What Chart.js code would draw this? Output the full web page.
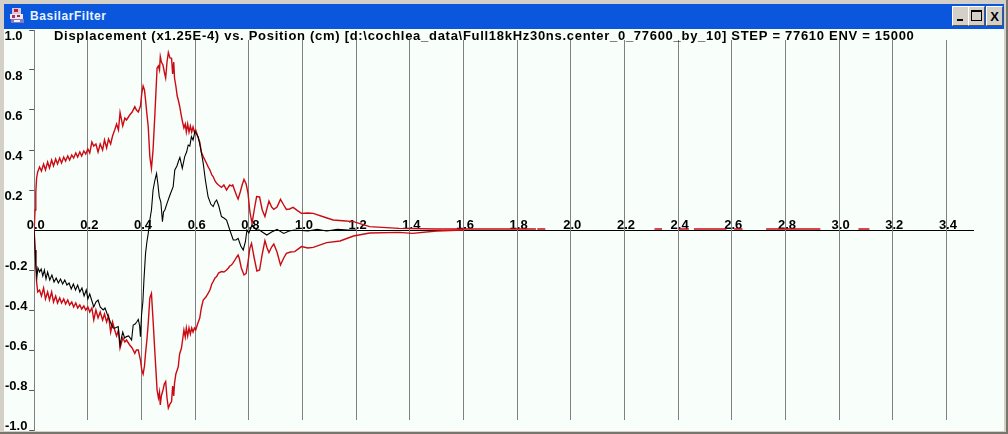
<!DOCTYPE html>
<html>
<head>
<meta charset="utf-8">
<title>BasilarFilter</title>
<script src="https://cdn.jsdelivr.net/npm/chart.js@4"></script>
<style>
  html, body { margin: 0; padding: 0; background: #d4d0c8; overflow: hidden; }
  #win { position: absolute; left: 0; top: 0; width: 1008px; height: 434px; background: #d4d0c8; }
  #edgeB { position: absolute; left: 0; top: 432px; width: 1008px; height: 2px; background: #77756c; }
  #edgeR { position: absolute; left: 1006px; top: 0; width: 2px; height: 434px; background: #77756c; }
  #bar { position: absolute; left: 4px; top: 4px; width: 1000px; height: 25px; background: #0a56dc; }
  #name { position: absolute; left: 30px; top: 9px; font: bold 12px "Liberation Sans", sans-serif; letter-spacing: .55px; color: #e8f4ff; }
  #icon { position: absolute; left: 9px; top: 8px; }
  .btn { position: absolute; top: 6px; width: 15px; height: 18px; background: #d4d0c8; border: 1px solid; border-color: #fff #555 #555 #fff; }
  #chart { position: absolute; left: 4px; top: 29px; background: #f8fefa; }
</style>
</head>
<body>
<div id="win">
  <div id="edgeB"></div><div id="edgeR"></div>
  <div id="bar"></div>
  <svg id="icon" width="16" height="16" viewBox="0 0 16 16">
    <rect x="3" y="0" width="9" height="6" fill="#d8c8e0"/>
    <rect x="5" y="1" width="4" height="3" fill="#c02030"/>
    <rect x="1" y="6" width="13" height="5" fill="#f0e8f0"/>
    <rect x="3" y="7" width="3" height="3" fill="#b03060"/>
    <rect x="8" y="7" width="3" height="2" fill="#c02030"/>
    <rect x="2" y="11" width="13" height="4" fill="#8878c0"/>
    <rect x="5" y="12" width="6" height="2" fill="#f4f0f8"/>
  </svg>
  <div id="name">BasilarFilter</div>
  <div class="btn" style="left:952px"><div style="position:absolute;left:4px;top:12px;width:6px;height:2px;background:#000"></div></div>
  <div class="btn" style="left:968px"><div style="position:absolute;left:2px;top:3px;width:11px;height:11px;border:1px solid #000;border-top-width:2px;box-sizing:border-box"></div></div>
  <div class="btn" style="left:986px"><div style="position:absolute;left:0;top:2px;width:15px;text-align:center;font:bold 13px 'Liberation Sans',sans-serif;color:#000">X</div></div>
  <canvas id="chart" width="1000" height="402"></canvas>
</div>
<script>
const titleText = "Displacement (x1.25E-4) vs. Position (cm) [d:\\cochlea_data\\Full18kHz30ns.center_0_77600_by_10] STEP = 77610 ENV = 15000";

const xTicks = [0,0.2,0.4,0.6,0.8,1.0,1.2,1.4,1.6,1.8,2.0,2.2,2.4,2.6,2.8,3.0,3.2,3.4];
const yTicks = [-1.0,-0.8,-0.6,-0.4,-0.2,0,0.2,0.4,0.6,0.8,1.0];

const upperX = [
  0,.003,.006,.009,.013,.02,.027,.035,.042,.05,
  .057,.065,.072,.08,.087,.095,.102,.11,.117,.125,
  .132,.14,.147,.155,.162,.17,.177,.185,.192,.2,
  .207,.215,.222,.23,.238,.246,.255,.262,.27,.277,
  .285,.292,.3,.307,.314,.32,.33,.338,.344,.356,
  .365,.375,.381,.388,.396,.401,.406,.411,.415,.42,
  .425,.431,.437,.443,.45,.458,.463,.467,.47,.474,
  .48,.485,.49,.495,.5,.506,.512,.516,.52,.523,
  .528,.533,.537,.542,.549,.553,.558,.563,.567,.572,
  .577,.582,.587,.592,.597,.602,.609,.617,.623,.63,
  .64,.648,.655,.662,.667,.674,.68,.687,.698,.707,
  .717,.724,.729,.735,.74,.748,.755,.76,.768,.775,
  .782,.79,.797,.804,.812,.82,.829,.84,.85,.86,
  .868,.875,.885,.893,.905,.918,.93,.94,.952,.965,
  .98,.996,1.02,1.04,1.08,1.114,1.15,1.19,1.25,1.36,
  1.5,1.66,1.87,1.872,1.875,1.905,1.907,2.31,2.312,2.34,
  2.342,2.4,2.402,2.44,2.442,2.457,2.459,2.58,2.582,2.607,
  2.609,2.64,2.642,2.726,2.728,2.93,2.932,3.07,3.072,3.113
];
// null = the trace lies on the axis line there and does not show
const upperY = [
  0,.10,.19,.26,.29,.315,.295,.33,.30,.34,
  .31,.35,.32,.355,.33,.36,.335,.365,.345,.37,
  .35,.375,.36,.385,.365,.39,.37,.395,.38,.405,
  .385,.44,.42,.43,.39,.43,.40,.45,.41,.455,
  .43,.47,.50,.53,.50,.587,.52,.56,.55,.575,
  .59,.617,.60,.59,.62,.683,.72,.70,.65,.58,
  .517,.367,.308,.40,.583,.81,.82,.80,.867,.84,
  .825,.79,.76,.84,.887,.86,.858,.78,.84,.76,
  .72,.67,.65,.62,.567,.54,.51,.53,.49,.53,
  .49,.52,.49,.515,.49,.50,.47,.44,.39,.367,
  .34,.317,.30,.275,.267,.245,.233,.225,.213,.225,
  .20,.215,.225,.22,.225,.195,.17,.155,.19,.225,
  .253,.23,.183,.09,.033,.10,.167,.165,.10,.067,
  .11,.145,.115,.103,.115,.153,.125,.103,.105,.113,
  .098,.083,.085,.083,.065,.05,.046,.042,.017,.008,
  .005,.005,.005,null,.005,.005,null,null,.005,.005,
  null,null,.005,.005,null,null,.005,.005,null,null,
  .005,.005,null,null,.005,.005,null,null,.005,.005
];

const lowerX = [
  0,.003,.006,.009,.013,.02,.027,.035,.042,.05,
  .057,.065,.072,.08,.087,.095,.102,.11,.117,.125,
  .132,.14,.147,.155,.162,.17,.177,.185,.192,.2,
  .207,.215,.222,.23,.238,.246,.255,.262,.27,.277,
  .285,.292,.3,.307,.314,.32,.33,.338,.344,.356,
  .365,.375,.381,.388,.396,.401,.406,.411,.415,.42,
  .425,.431,.437,.443,.45,.458,.463,.467,.47,.474,
  .48,.485,.49,.495,.5,.506,.512,.516,.52,.523,
  .528,.533,.537,.542,.549,.553,.558,.563,.567,.572,
  .577,.582,.587,.592,.597,.602,.609,.617,.623,.63,
  .64,.648,.655,.662,.667,.674,.68,.687,.698,.707,
  .717,.724,.729,.735,.74,.748,.755,.76,.764,.772,
  .782,.79,.797,.804,.81,.82,.83,.84,.85,.86,
  .868,.875,.885,.893,.905,.918,.93,.94,.955,.971,
  .996,1.02,1.04,1.09,1.14,1.19,1.25,1.36,1.41,1.5,
  1.6
];
const lowerY = [
  0,-.10,-.18,-.26,-.31,-.30,-.33,-.29,-.345,-.31,
  -.35,-.31,-.36,-.33,-.365,-.34,-.365,-.345,-.37,-.35,
  -.375,-.36,-.385,-.365,-.39,-.375,-.395,-.38,-.40,-.385,
  -.41,-.39,-.45,-.40,-.44,-.41,-.45,-.42,-.46,-.43,
  -.51,-.46,-.50,-.53,-.50,-.59,-.54,-.56,-.55,-.575,
  -.59,-.617,-.60,-.60,-.65,-.70,-.72,-.68,-.617,-.55,
  -.467,-.34,-.317,-.45,-.617,-.80,-.84,-.81,-.875,-.83,
  -.80,-.77,-.758,-.84,-.89,-.87,-.858,-.78,-.83,-.767,
  -.72,-.70,-.683,-.62,-.59,-.55,-.50,-.535,-.49,-.53,
  -.49,-.52,-.49,-.51,-.49,-.50,-.47,-.44,-.39,-.35,
  -.335,-.317,-.30,-.27,-.258,-.24,-.233,-.215,-.208,-.21,
  -.20,-.19,-.18,-.175,-.167,-.15,-.135,-.125,-.14,-.19,
  -.225,-.217,-.16,-.09,-.067,-.14,-.205,-.20,-.12,-.053,
  -.09,-.113,-.085,-.07,-.11,-.175,-.14,-.117,-.11,-.108,
  -.083,-.09,-.087,-.063,-.055,-.03,-.015,-.012,-.017,-.005,
  0
];

const waveX = [
  0,.003,.006,.01,.014,.02,.026,.032,.038,.044,
  .05,.058,.066,.074,.082,.09,.098,.106,.114,.122,
  .13,.138,.146,.154,.162,.17,.178,.186,.194,.2,
  .207,.214,.222,.23,.238,.246,.257,.264,.272,.276,
  .284,.294,.302,.313,.32,.325,.33,.337,.344,.352,
  .363,.369,.376,.382,.388,.393,.396,.4,.405,.409,
  .415,.42,.425,.431,.437,.443,.45,.456,.461,.466,
  .472,.478,.482,.487,.495,.506,.518,.524,.532,.538,
  .543,.552,.561,.568,.574,.58,.586,.592,.599,.605,
  .611,.62,.63,.638,.648,.658,.667,.674,.68,.688,
  .698,.707,.717,.729,.742,.752,.76,.77,.779,.787,
  .793,.8,.812,.82,.83,.84,.85,.867,.885,.905,
  .93,.95,.97,1.02,1.055,1.09,1.13,1.17,1.2
];
const waveY = [
  0,-.10,-.17,-.235,-.19,-.21,-.195,-.23,-.20,-.245,
  -.21,-.25,-.225,-.26,-.24,-.265,-.245,-.27,-.25,-.275,
  -.265,-.295,-.27,-.30,-.275,-.31,-.29,-.33,-.30,-.345,
  -.32,-.35,-.385,-.36,-.35,-.385,-.40,-.39,-.42,-.433,
  -.46,-.49,-.49,-.483,-.575,-.54,-.51,-.54,-.533,-.53,
  -.55,-.475,-.47,-.46,-.447,-.48,-.533,-.425,-.36,-.25,
  -.117,-.06,-.017,.05,.10,.20,.25,.283,.23,.167,
  .14,.042,.09,.10,.133,.175,.217,.30,.32,.345,
  .363,.308,.367,.39,.425,.42,.467,.45,.492,.48,
  .467,.41,.333,.25,.167,.13,.117,.14,.15,.12,
  .067,.06,.05,0,-.05,-.05,-.042,-.08,-.10,-.06,
  0,-.015,.025,.01,0,0,-.01,-.025,-.01,.003,
  -.017,-.005,0,-.005,.003,-.005,.003,0,0
];

function toPoints(xs, ys) {
  return xs.map((x, i) => ({ x: x, y: ys[i] }));
}

// vertical lines stop short of the plot, y labels sit above/below their tick
const frameText = {
  id: "frameText",
  beforeDatasetsDraw(chart) {
    const c = chart.ctx, sx = chart.scales.x, sy = chart.scales.y;
    c.save();
    c.strokeStyle = "#808080";
    c.lineWidth = 1;
    xTicks.forEach(v => {
      if (v === 0) return;
      const px = Math.floor(sx.getPixelForValue(v)) + 0.5;
      c.beginPath();
      c.moveTo(px, sy.getPixelForValue(0.95));
      c.lineTo(px, sy.getPixelForValue(-0.95));
      c.stroke();
    });
    c.restore();
  },
  afterDraw(chart) {
    const c = chart.ctx, sy = chart.scales.y;
    c.save();
    c.fillStyle = "#000";
    c.font = "bold 13px 'Liberation Sans', sans-serif";
    c.textBaseline = "alphabetic";
    yTicks.forEach(v => {
      if (v === 0) return;
      const py = sy.getPixelForValue(v);
      c.fillText(v.toFixed(1), v < 0 ? 1 : 0.5, v < 0 ? py : py + 10);
    });
    c.letterSpacing = "0.71px";
    c.fillText(titleText, 50, 11);
    c.restore();
  }
};

new Chart(document.getElementById("chart"), {
  type: "scatter",
  data: {
    datasets: [
      { label: "wave", data: toPoints(waveX, waveY), borderColor: "#000000", borderWidth: 1.1 },
      { label: "upper", data: toPoints(upperX, upperY), borderColor: "#cc0a14" },
      { label: "lower", data: toPoints(lowerX, lowerY), borderColor: "#cc0a14" }
    ]
  },
  options: {
    responsive: false,
    animation: false,
    showLine: true,
    spanGaps: false,
    layout: { padding: { left: 0, right: 30.75, top: 1, bottom: 1 } },
    elements: {
      point: { radius: 0 },
      line: { borderWidth: 1.4, tension: 0 }
    },
    plugins: {
      legend: { display: false },
      title: { display: false },
      tooltip: { enabled: false }
    },
    scales: {
      x: {
        type: "linear",
        position: { y: 0 },
        min: 0,
        max: 3.5,
        z: 1,
        afterBuildTicks(s) { s.ticks = xTicks.map(v => ({ value: v })); },
        grid: { drawOnChartArea: false, drawTicks: false },
        border: { color: "#000000", width: 1 },
        ticks: {
          autoSkip: false,
          maxRotation: 0,
          minRotation: 0,
          padding: -12.5,
          labelOffset: 1.5,
          color: "#000000",
          font: { family: "'Liberation Sans', sans-serif", size: 13, weight: "bold" },
          callback: v => v.toFixed(1)
        }
      },
      y: {
        type: "linear",
        min: -1,
        max: 1,
        afterFit(s) { s.width = 30.2; },
        afterBuildTicks(s) { s.ticks = yTicks.filter(v => v !== 0).map(v => ({ value: v })); },
        grid: { drawOnChartArea: false, drawTicks: true, tickLength: 5, color: "#555555" },
        border: { color: "#808080", width: 1 },
        ticks: { display: false }
      }
    }
  },
  plugins: [frameText]
});
</script>
</body>
</html>
